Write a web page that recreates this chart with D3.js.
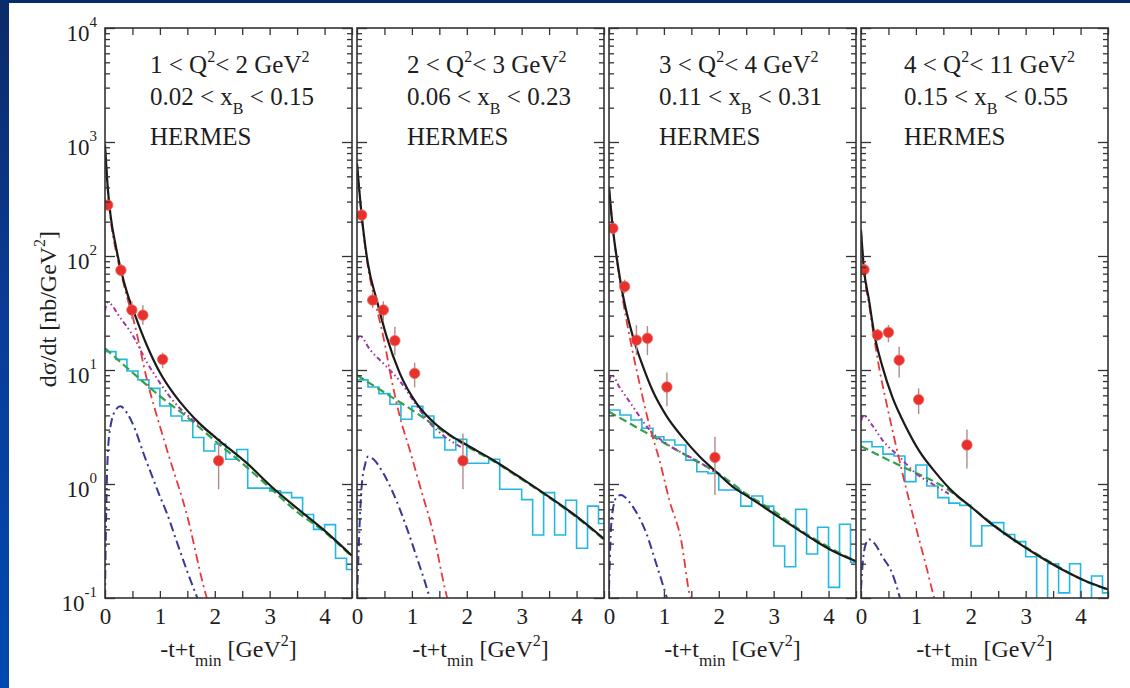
<!DOCTYPE html>
<html><head><meta charset="utf-8">
<script src="https://cdn.jsdelivr.net/npm/d3@7"></script>
<style>
body{margin:0;background:#fff;}
svg{display:block;}
svg text{font-family:"Liberation Serif","Times New Roman",Times,serif !important;}
</style>
</head><body><svg id="c" width="1130" height="688"></svg>
<script>
// ---------------- data ----------------
const q2Low = ["1","2","3","4"];
const q2High = ["2","3","4","11"];
const xbLow = ["0.02","0.06","0.11","0.15"];
const xbHigh = ["0.15","0.23","0.31","0.55"];
const experiment = "HERMES";
const xTickLabels = [0,1,2,3,4];
const yDecades = [0.1,1,10,100,1000,10000];
const yExponents = ["-1","0","1","2","3","4"];

// HERMES data points
const ptX = [[0.05,0.29,0.49,0.69,1.05,2.07],[0.085,0.285,0.48,0.69,1.05,1.93],[0.07,0.285,0.5,0.7,1.055,1.93],[0.055,0.3,0.5,0.695,1.05,1.93]];
const ptY = [[280,75,33.6,30.3,12.4,1.6],[229,41,33.6,18.1,9.35,1.6],[175,54,18.3,19.0,7.1,1.71],[76,20.3,21.4,12.2,5.5,2.2]];
const ptLo = [[255,67,28,25,10.4,0.9],[205,35,27,13.5,7.05,0.9],[157,47,13.5,13.5,4.8,0.8],[70,18,17.5,8.6,4.1,1.37]];
const ptHi = [[310,85,40,37,14.2,2.3],[255,48,40,24,11.6,2.78],[195,62,24.8,24.3,9.5,2.6],[82,23,24.8,16,6.9,3.0]];

// total (black solid)
const totX = [[0,0.05,0.1,0.2,0.3,0.4,0.55,0.75,1.0,1.25,1.5,1.75,2.07,2.6,3.03,3.58,4.0,4.5],
              [0,0.08,0.2,0.36,0.54,0.78,1.085,1.39,1.69,2.0,2.5,3.0,3.5,4.0,4.5],
              [0,0.07,0.15,0.255,0.436,0.62,0.8,1.04,1.345,1.65,1.95,2.25,2.56,2.86,3.16,3.47,3.77,4.07,4.5],
              [0,0.05,0.146,0.24,0.39,0.57,0.817,1.06,1.37,1.67,2.04,2.4,2.83,3.26,3.68,4.05,4.5]];
const totY = [[950,400,230,120,72,48,30,17,9.5,6.2,4.4,3.3,2.43,1.5,0.95,0.57,0.39,0.235],
              [650,240,85,41,19.6,9.35,5.1,3.5,2.7,2.2,1.6,1.12,0.77,0.52,0.33],
              [405,175,90,45,19.6,10.7,6.5,4.0,2.55,1.74,1.28,0.95,0.76,0.61,0.49,0.39,0.315,0.26,0.21],
              [170,80,41,21,10.7,5.8,3.18,1.95,1.24,0.857,0.61,0.437,0.312,0.23,0.176,0.144,0.119]];

// red dash-dot component
const redX = [[0,0.05,0.1,0.2,0.3,0.4,0.52,0.765,1.13,1.5,1.83,1.9],
              [0,0.08,0.2,0.33,0.48,0.63,0.78,0.96,1.15,1.39,1.63,1.7],
              [0,0.07,0.15,0.25,0.376,0.557,0.74,0.92,1.1,1.315,1.47,1.52],
              [0,0.05,0.146,0.24,0.33,0.45,0.6,0.756,1.0,1.2,1.335,1.4]];
const redY = [[900,380,215,110,68,44,27.5,8.2,1.99,0.52,0.11,0.085],
              [640,235,80,40,19.5,8.2,3.9,2.0,0.95,0.37,0.106,0.08],
              [400,170,88,42,19.6,7.6,3.2,1.62,0.72,0.32,0.106,0.085],
              [170,76,38,19,10.5,5.5,2.6,1.24,0.42,0.18,0.1,0.08]];

// purple dash-dot-dot component
const purX = [[0,0.04,0.1,0.25,0.52,0.75,1.01,1.25,1.5,1.8,2.1],
              [0,0.05,0.24,0.48,0.78,1.085,1.33,1.6,1.9],
              [0,0.05,0.19,0.436,0.74,1.04,1.345,1.65,1.95],
              [0,0.05,0.2,0.39,0.695,1.0,1.3,1.6]];
const purY = [[33,39,38,30,19.6,12,7.6,5.3,4.0,3.1,2.4],
              [18,20,15,11.4,8.0,4.9,3.4,2.6,2.1],
              [8,9,7.1,4.77,2.98,2.27,1.86,1.55,1.25],
              [3.6,4.0,3.3,2.43,1.74,1.24,1.0,0.82]];

// green dashed component
const grnX = [[0,0.5,1.0,1.5,2.0,2.5,3.0,3.5,4.0,4.5],[0,0.5,1.0,1.5,2.0,2.5,3.0,3.5,4.0,4.5],
              [0,0.5,1.0,1.5,2.0,2.5,3.0,3.5,4.0,4.5],[0,0.5,1.0,1.5,2.0,2.5,3.0,3.5,4.0,4.5]];
const grnY = [[15.5,9.5,5.9,3.85,2.4,1.52,0.93,0.57,0.38,0.23],
              [9.0,6.35,4.47,3.05,2.15,1.57,1.1,0.76,0.51,0.325],
              [4.3,3.15,2.3,1.68,1.23,0.82,0.58,0.39,0.28,0.21],
              [2.15,1.62,1.25,0.95,0.63,0.41,0.28,0.2,0.147,0.118]];

// blue dash-dot component
const bluX = [[0,0.02,0.05,0.1,0.2,0.28,0.4,0.55,0.7,0.85,1.0,1.13,1.3,1.5,1.7],
              [0,0.02,0.085,0.15,0.2,0.3,0.48,0.66,0.9,1.085,1.3,1.35],
              [0,0.03,0.07,0.15,0.22,0.3,0.436,0.68,0.86,1.04,1.1],
              [0,0.03,0.08,0.146,0.25,0.39,0.57,0.695,0.75]];
const bluY = [[0.1,0.5,1.8,3.2,4.5,4.8,4.2,3.0,1.86,1.2,0.78,0.55,0.32,0.17,0.095],
              [0.09,0.19,0.95,1.5,1.74,1.65,1.24,0.83,0.42,0.23,0.11,0.09],
              [0.12,0.35,0.6,0.78,0.8,0.76,0.63,0.37,0.2,0.106,0.085],
              [0.12,0.2,0.29,0.327,0.3,0.23,0.164,0.106,0.085]];

// cyan histogram, bins of 0.2
const histBinWidth = 0.2;
const histVals = [
 [14.5,12.4,9.8,8.2,6.9,4.83,3.95,3.59,2.56,1.95,2.24,1.65,2.01,0.92,0.92,0.87,0.84,0.76,0.54,0.40,0.44,0.223,0.178],
 [8.2,7.1,6.2,5.0,3.7,4.8,3.95,2.55,1.99,2.47,1.52,1.52,1.65,0.9,0.9,0.73,0.357,0.84,0.357,0.72,0.273,0.64,0.45],
 [4.46,4.03,3.64,3.08,2.6,2.43,2.2,1.62,1.28,1.24,0.885,0.885,0.64,0.785,0.64,0.286,0.188,0.6,0.243,0.417,0.124,0.443,0.206],
 [2.35,2.12,1.83,1.76,1.05,1.47,0.96,0.76,0.68,0.65,0.286,0.43,0.458,0.361,0.312,0.23,0.05,0.2,0.111,0.2,0.05,0.156,0.111]
];

// ---------------- drawing ----------------
const W = 1130, H = 688;
const FONT = "'Liberation Serif','Times New Roman',Times,serif";
const svg = d3.select("#c").attr("font-family", FONT);
const defs = svg.append("defs");
const lg = defs.append("linearGradient").attr("id","lg").attr("x1",0).attr("y1",0).attr("x2",0).attr("y2",1);
lg.append("stop").attr("offset","0%").attr("stop-color","#0b2a68");
lg.append("stop").attr("offset","45%").attr("stop-color","#0a3c96");
lg.append("stop").attr("offset","100%").attr("stop-color","#0049b0");

svg.append("rect").attr("width",W).attr("height",H).attr("fill","#ffffff");
svg.append("rect").attr("x",0).attr("y",0).attr("width",9).attr("height",H).attr("fill","url(#lg)");
svg.append("rect").attr("x",0).attr("y",0).attr("width",W).attr("height",3).attr("fill","#072c6c");

const plotTop = 28, plotBottom = 598, pw = 247;
const leftOf = p => 105 + p*252;
const textOffsets = [45, 50, 50, 43];
const ink = "#1e1e1e";

const yMinor = [];
[0.1,1,10,100,1000].forEach(d => { for (let k=2;k<=9;k++) yMinor.push(d*k); });
const xAll = d3.range(0, 4.51, 0.5);

function styleAxis(g){
  g.select(".domain").remove();
  g.selectAll(".tick line").attr("stroke","#333").attr("stroke-width",1.3);
}
function serif(sel){ return sel.attr("font-family", FONT).style("font-family", FONT); }

for (let p=0;p<4;p++){
  const left = leftOf(p), right = left + pw;
  const x = d3.scaleLinear().domain([0,4.5]).range([left,right]);
  const y = d3.scaleLog().domain([0.1,1e4]).range([plotBottom,plotTop]);
  const g = svg.append("g");

  defs.append("clipPath").attr("id","clip"+p).append("rect")
    .attr("x",left).attr("y",plotTop).attr("width",pw).attr("height",plotBottom-plotTop);
  const gp = g.append("g").attr("clip-path",`url(#clip${p})`);

  // histogram
  const hv = histVals[p];
  const hpts = hv.map((v,i)=>[i*histBinWidth, v]);
  hpts.push([hv.length*histBinWidth, hv[hv.length-1]]);
  gp.append("path").datum(hpts)
    .attr("d", d3.line().x(d=>x(d[0])).y(d=>y(d[1])).curve(d3.curveStepAfter))
    .attr("fill","none").attr("stroke","#22b8e3").attr("stroke-width",1.6);

  const curve = (xs, ys, color, width, dash) => {
    const pts = xs.map((v,i)=>[v, ys[i]]);
    gp.append("path").datum(pts)
      .attr("d", d3.line().x(d=>x(d[0])).y(d=>y(d[1])).curve(d3.curveMonotoneX))
      .attr("fill","none").attr("stroke",color).attr("stroke-width",width)
      .attr("stroke-dasharray",dash);
  };
  curve(grnX[p], grnY[p], "#33a04c", 2.2, "8,4");
  curve(purX[p], purY[p], "#9c36a2", 2.0, "5,3,1.5,3,1.5,3");
  curve(bluX[p], bluY[p], "#38379a", 2.0, "9,4,2,4");
  curve(redX[p], redY[p], "#e8383a", 1.8, "9,4,2,4");
  curve(totX[p], totY[p], "#1a1a1a", 2.2, null);

  // data points
  const pts = ptX[p].map((v,i)=>({x:v, y:ptY[p][i], lo:ptLo[p][i], hi:ptHi[p][i]}));
  gp.selectAll("line.err").data(pts).join("line").attr("class","err")
    .attr("x1",d=>x(d.x)).attr("x2",d=>x(d.x)).attr("y1",d=>y(d.lo)).attr("y2",d=>y(d.hi))
    .attr("stroke","#b08a8a").attr("stroke-width",1.4);
  gp.selectAll("circle.pt").data(pts).join("circle").attr("class","pt")
    .attr("cx",d=>x(d.x)).attr("cy",d=>y(d.y)).attr("r",5.2)
    .attr("fill","#e8302c").attr("stroke","#f06a60").attr("stroke-width",0.8);

  // ticks on all four sides
  g.append("g").attr("transform",`translate(${left},0)`).call(d3.axisLeft(y).tickValues(yDecades).tickSize(-10).tickFormat("")).call(styleAxis);
  g.append("g").attr("transform",`translate(${left},0)`).call(d3.axisLeft(y).tickValues(yMinor).tickSize(-5).tickFormat("")).call(styleAxis);
  g.append("g").attr("transform",`translate(${right},0)`).call(d3.axisRight(y).tickValues(yDecades).tickSize(-10).tickFormat("")).call(styleAxis);
  g.append("g").attr("transform",`translate(${right},0)`).call(d3.axisRight(y).tickValues(yMinor).tickSize(-5).tickFormat("")).call(styleAxis);
  g.append("g").attr("transform",`translate(0,${plotTop})`).call(d3.axisTop(x).tickValues(xAll).tickSize(-7).tickFormat("")).call(styleAxis);
  g.append("g").attr("transform",`translate(0,${plotBottom})`).call(d3.axisBottom(x).tickValues(xAll).tickSize(-7).tickFormat("")).call(styleAxis);

  // frame
  g.append("rect").attr("x",left).attr("y",plotTop).attr("width",pw).attr("height",plotBottom-plotTop)
    .attr("fill","none").attr("stroke","#333").attr("stroke-width",1.6);

  // x tick labels
  const xl = g.append("g").attr("transform",`translate(0,${plotBottom})`)
    .call(d3.axisBottom(x).tickValues(xTickLabels).tickSize(0).tickPadding(10).tickFormat(d3.format("d")));
  xl.select(".domain").remove();
  serif(xl).attr("font-size",23);
  serif(xl.selectAll("text")).attr("font-size",23).attr("fill",ink);

  // y tick labels (only first panel)
  if (p===0){
    const yl = g.append("g").attr("transform",`translate(${left},0)`)
      .call(d3.axisLeft(y).tickValues(yDecades).tickSize(0).tickPadding(8).tickFormat(""));
    yl.select(".domain").remove();
    serif(yl).attr("font-size",23);
    serif(yl.selectAll("text")).attr("font-size",23).attr("fill",ink)
      .attr("dy","0.56em")
      .each(function(d){
        const t = d3.select(this);
        t.append("tspan").text("10");
        t.append("tspan").attr("dy",-14).attr("font-size",15).text(yExponents[yDecades.indexOf(d)]);
      });
  }

  // x axis title
  const xt = serif(g.append("text")).attr("x",(left+right)/2).attr("y",657)
    .attr("text-anchor","middle").attr("font-size",24).attr("fill",ink);
  xt.append("tspan").text("-t+t");
  xt.append("tspan").attr("font-size",17).attr("dy",9).text("min");
  xt.append("tspan").attr("dy",-9).text(" [GeV");
  xt.append("tspan").attr("font-size",16).attr("dy",-11).text("2");
  xt.append("tspan").attr("dy",11).text("]");

  // annotations
  const tx = left + textOffsets[p];
  const a1 = serif(g.append("text")).attr("x",tx).attr("y",73).attr("font-size",25).attr("fill",ink);
  a1.append("tspan").text(`${q2Low[p]} < Q`);
  a1.append("tspan").attr("font-size",16).attr("dy",-11).text("2");
  a1.append("tspan").attr("dy",11).text(`< ${q2High[p]} GeV`);
  a1.append("tspan").attr("font-size",16).attr("dy",-11).text("2");
  const a2 = serif(g.append("text")).attr("x",tx).attr("y",105).attr("font-size",25).attr("fill",ink);
  a2.append("tspan").text(`${xbLow[p]} < x`);
  a2.append("tspan").attr("font-size",16).attr("dy",9).text("B");
  a2.append("tspan").attr("dy",-9).text(` < ${xbHigh[p]}`);
  serif(g.append("text")).attr("x",tx).attr("y",145).attr("font-size",25).attr("fill",ink).text(experiment);
}

// y axis title
const yt = serif(svg.append("text")).attr("transform","translate(56,309) rotate(-90)")
  .attr("text-anchor","middle").attr("font-size",24).attr("fill",ink);
yt.append("tspan").text("dσ/dt [nb/GeV");
yt.append("tspan").attr("font-size",16).attr("dy",-11).text("2");
yt.append("tspan").attr("dy",11).text("]");
</script></body></html>
